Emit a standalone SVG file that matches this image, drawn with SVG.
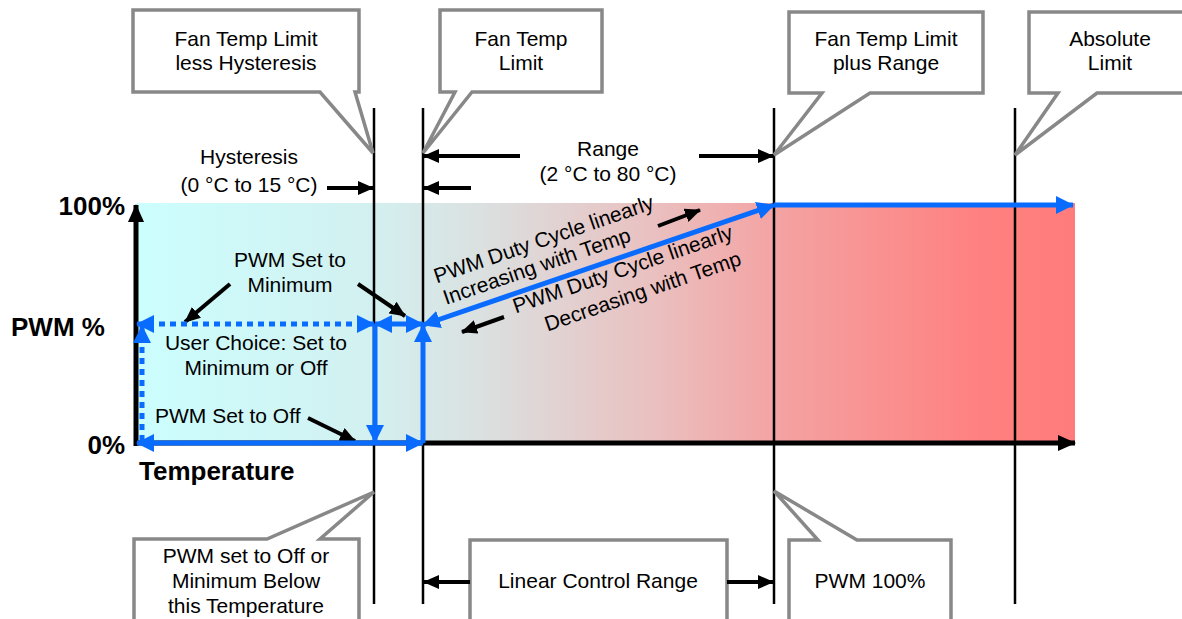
<svg xmlns="http://www.w3.org/2000/svg" width="1182" height="619" viewBox="0 0 1182 619">
<defs>
<linearGradient id="bg" x1="0" y1="0" x2="1" y2="0">
<stop offset="0" stop-color="#ccfefe"/>
<stop offset="0.25" stop-color="#d3f0f0"/>
<stop offset="0.38" stop-color="#dcdede"/>
<stop offset="0.55" stop-color="#eac0c0"/>
<stop offset="0.68" stop-color="#f4a3a3"/>
<stop offset="0.9" stop-color="#ff8080"/>
<stop offset="1" stop-color="#ff7c7c"/>
</linearGradient>
<marker id="ab" markerUnits="userSpaceOnUse" markerWidth="16" markerHeight="14" refX="15" refY="7" orient="auto-start-reverse">
<path d="M0,0 L16,7 L0,14 Z" fill="#000"/>
</marker>
<marker id="au" markerUnits="userSpaceOnUse" markerWidth="18" markerHeight="18" refX="17" refY="9" orient="auto-start-reverse">
<path d="M0,0 L18,9 L0,18 Z" fill="#0a6cff"/>
</marker>
<marker id="ak" markerUnits="userSpaceOnUse" markerWidth="18" markerHeight="16" refX="17" refY="8" orient="auto-start-reverse">
<path d="M0,0 L18,8 L0,16 Z" fill="#000"/>
</marker>
</defs>
<style>
text{font-family:"Liberation Sans",Arial,sans-serif;font-size:21px;fill:#000}
.c{text-anchor:middle}
.b{font-weight:bold;font-size:26px}
.r{text-anchor:end}
.co{fill:#fff;stroke:#888;stroke-width:3.5}
.vl{stroke:#000;stroke-width:2.5;fill:none}
.ax{stroke:#000;stroke-width:5;fill:none}
.bl{stroke:#0a6cff;stroke-width:5;fill:none}
.dt{stroke-dasharray:6 5}
.ka{stroke:#000;stroke-width:4;fill:none;marker-end:url(#ab)}
</style>
<rect x="137" y="203" width="938" height="240" fill="url(#bg)"/>
<g id="guides">
<line class="vl" x1="374" y1="108" x2="374" y2="604"/>
<line class="vl" x1="423" y1="108" x2="423" y2="604"/>
<line class="vl" x1="774" y1="108" x2="774" y2="604"/>
<line class="vl" x1="1015" y1="108" x2="1015" y2="604"/>
</g>
<g id="axes">
<line class="ax" x1="136" y1="446" x2="136" y2="205" marker-end="url(#ak)"/>
<line class="ax" x1="134" y1="443" x2="1075" y2="443" marker-end="url(#ak)"/>
<text class="b r" x="125" y="215">100%</text>
<text class="b r" x="125" y="454">0%</text>
<text class="b" x="11" y="336">PWM %</text>
<text class="b" x="139" y="480">Temperature</text>
</g>
<g id="callout-less-hysteresis">
<path class="co" d="M133,10 H359 V92 H355 L373,153 L320,92 H133 Z"/>
<text class="c" x="246" y="46">Fan Temp Limit</text>
<text class="c" x="246" y="70">less Hysteresis</text>
</g>
<g id="callout-fan-temp-limit">
<path class="co" d="M440,10 H602 V92 H472 L423,153 L455,92 H440 Z"/>
<text class="c" x="521" y="46">Fan Temp</text>
<text class="c" x="521" y="70">Limit</text>
</g>
<g id="callout-plus-range">
<path class="co" d="M789,12 H983 V93 H870 L774,155 L822,93 H789 Z"/>
<text class="c" x="886" y="46">Fan Temp Limit</text>
<text class="c" x="886" y="70">plus Range</text>
</g>
<g id="callout-absolute">
<path class="co" d="M1029,12 H1192 V93 H1097 L1015,155 L1058,93 H1029 Z"/>
<text class="c" x="1110" y="46">Absolute</text>
<text class="c" x="1110" y="70">Limit</text>
</g>
<g id="callout-below">
<path class="co" d="M134,640 V539 H267 L374,492 L320,539 H359 V640"/>
<text class="c" x="246" y="563">PWM set to Off or</text>
<text class="c" x="246" y="588">Minimum Below</text>
<text class="c" x="246" y="613">this Temperature</text>
</g>
<g id="box-linear">
<path class="co" d="M470,640 V540 H727 V640"/>
<text class="c" x="598" y="588">Linear Control Range</text>
</g>
<g id="callout-pwm100">
<path class="co" d="M789,640 V540 H818 L774,491 L857,540 H951 V640"/>
<text class="c" x="870" y="588">PWM 100%</text>
</g>
<g id="connectors">
<line class="ka" x1="327" y1="188" x2="373" y2="188"/>
<line class="ka" x1="471" y1="188" x2="424" y2="188"/>
<line class="ka" x1="520" y1="156" x2="424" y2="156"/>
<line class="ka" x1="699" y1="156" x2="773" y2="156"/>
<line class="ka" x1="230" y1="284" x2="185" y2="322"/>
<line class="ka" x1="358" y1="284" x2="405" y2="316"/>
<line class="ka" x1="308" y1="418" x2="355" y2="441"/>
<line class="ka" x1="658" y1="226" x2="700" y2="210"/>
<line class="ka" x1="504" y1="317" x2="462" y2="332"/>
<line class="ka" x1="470" y1="582" x2="424" y2="582"/>
<line class="ka" x1="727" y1="582" x2="773" y2="582"/>
<line class="bl dt" x1="137" y1="324" x2="374" y2="324" marker-start="url(#au)" marker-end="url(#au)"/>
<line class="bl dt" x1="142" y1="441" x2="142" y2="326" marker-end="url(#au)"/>
<line class="bl" x1="375" y1="324" x2="375" y2="442" marker-end="url(#au)"/>
<line class="bl" x1="375" y1="324" x2="423" y2="324" marker-start="url(#au)" marker-end="url(#au)"/>
<line class="bl" x1="423" y1="443" x2="423" y2="325" marker-end="url(#au)"/>
<line class="bl" x1="137" y1="443" x2="423" y2="443" marker-start="url(#au)" marker-end="url(#au)"/>
<line class="bl" x1="423" y1="325" x2="774" y2="205" marker-start="url(#au)" marker-end="url(#au)"/>
<line class="bl" x1="774" y1="205" x2="1073" y2="205" marker-end="url(#au)"/>
</g>
<g id="labels">
<text class="c" x="249" y="164">Hysteresis</text>
<text class="c" x="249" y="192">(0 °C to 15 °C)</text>
<text class="c" x="608" y="156">Range</text>
<text class="c" x="608" y="181">(2 °C to 80 °C)</text>
<text class="c" x="290" y="267">PWM Set to</text>
<text class="c" x="290" y="292">Minimum</text>
<text class="c" x="256" y="350">User Choice: Set to</text>
<text class="c" x="256" y="375">Minimum or Off</text>
<text x="155" y="423">PWM Set to Off</text>
<text class="c" transform="translate(546,246) rotate(-19)">PWM Duty Cycle linearly</text>
<text class="c" transform="translate(539,273) rotate(-19)">Increasing with Temp</text>
<text class="c" transform="translate(625,276) rotate(-19)">PWM Duty Cycle linearly</text>
<text class="c" transform="translate(645,298) rotate(-19)">Decreasing with Temp</text>
</g>
</svg>
